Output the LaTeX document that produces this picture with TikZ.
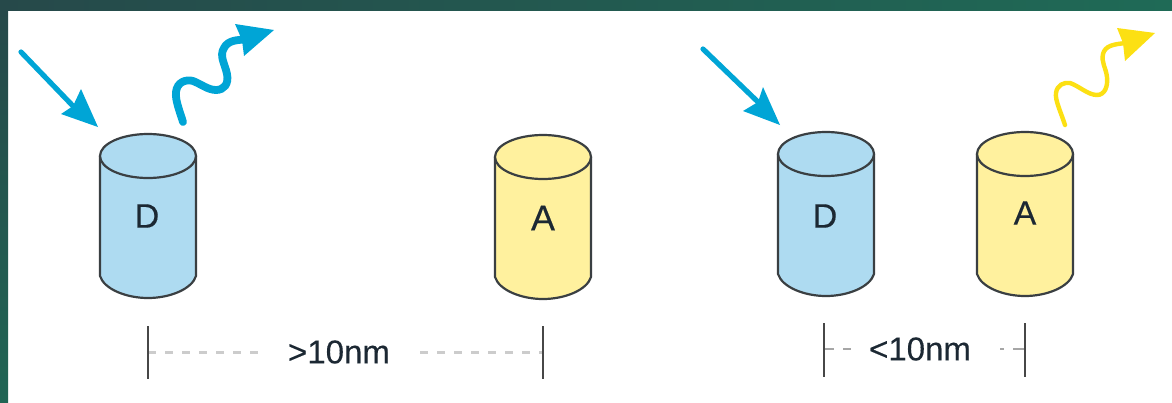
\documentclass[tikz,border=0pt]{standalone}
\usepackage{fontspec}
\setmainfont{Liberation Sans}
\definecolor{donor}{HTML}{AEDBF1}
\definecolor{acceptor}{HTML}{FFF19E}
\definecolor{photonblue}{HTML}{00A5D6}
\definecolor{photonyellow}{HTML}{FCE013}
\definecolor{rim}{HTML}{3A3F42}
\definecolor{inktext}{HTML}{1C2833}
\definecolor{frameleft}{HTML}{26494A}
\definecolor{frameright}{HTML}{1F6A56}
\tikzset{
  x=1pt, y=-1pt,
  cylwall/.style={draw=rim, line width=2.2pt, line join=round},
  cyllabel/.style={inner sep=0pt, text=inktext, font=\fontsize{34}{34}\selectfont\addfontfeature{FakeBold=0.25}},
  dimlabel/.style={inner sep=0pt, text=inktext, font=\fontsize{33}{33}\selectfont\addfontfeature{FakeBold=0.25}},
  dimtick/.style={draw=black!72, line width=2.2pt},
  gapwide/.style={draw=black!20, line width=3pt},
  gapnarrow/.style={draw=black!35, line width=1.8pt},
  straightphoton/.style={draw=photonblue, line width=5.2pt, line cap=round},
  bluephoton/.style={draw=photonblue, line width=7.8pt, line cap=round},
  yellowphoton/.style={draw=photonyellow, line width=4.4pt, line cap=round},
  bluehead/.style={fill=photonblue},
  yellowhead/.style={fill=photonyellow},
}
% Cylinder: name, left edge, centre height of the top ellipse, fill, letter, letter position, extra label options
\newcommand{\tube}[8]{%
  \path[cylwall, fill=#4] (#2,#3) -- (#2,#3+120)
    .. controls (#2+4,#3+133) and (#2+26,#3+142) .. (#2+48,#3+142)
    .. controls (#2+70,#3+142) and (#2+92,#3+133) .. (#2+96,#3+120)
    -- (#2+96,#3) -- cycle;
  \path[cylwall, fill=#4] (#2+48,#3) ellipse[x radius=48pt, y radius=22pt];
  \node[cyllabel, #8] (#1) at (#6,#7) {#5};
}
\begin{document}
\begin{tikzpicture}
  \useasboundingbox (0,0) rectangle (1172,402);
  \fill[white] (0,0) rectangle (1172,402);
  % Dark frame along the top and left edges
  \shade[left color=frameleft, right color=frameright] (0,0) rectangle (1172,10);
  \shade[top color=frameleft, bottom color=frameright!85!frameleft] (0,10) rectangle (8,402);

  % Cylinders
  \tube{donorfar}{100}{156}{donor}{D}{147}{216}{}
  \tube{acceptorfar}{495}{157}{acceptor}{A}{543}{218}{font=\fontsize{36}{36}\selectfont\addfontfeature{FakeBold=0.25}}
  \tube{donornear}{778}{154}{donor}{D}{825}{216}{}
  \tube{acceptornear}{977}{154}{acceptor}{A}{1025}{213}{}

  % Incoming light
  \coordinate (inA) at (21,52);    \coordinate (notchA) at (73,106);
  \coordinate (inB) at (703,49);   \coordinate (notchB) at (758,102);
  \draw[straightphoton] (inA) -- (notchA);
  \fill[bluehead] (98,127) -- (81,89) -- (notchA) -- (61,114) -- cycle;
  \draw[straightphoton] (inB) -- (notchB);
  \fill[bluehead] (780,125) -- (763,87) -- (notchB) -- (743,111) -- cycle;

  % Emitted light
  \coordinate (outA) at (183,122); \coordinate (neckA) at (245,39.5);
  \coordinate (outB) at (1065,125); \coordinate (neckB) at (1127,43);
  \draw[bluephoton] (outA) .. controls (180,112) and (175,100) .. (176,92)
    .. controls (177,82) and (186,79) .. (193,81)
    .. controls (201,84) and (208,90) .. (216,90)
    .. controls (224,90) and (229,84) .. (227,74)
    .. controls (225,64) and (219,56) .. (224,48)
    .. controls (228,40) and (238,40) .. (neckA);
  \fill[bluehead] (274,30) -- (235,24) -- (242,40) -- (244,56) -- cycle;
  \draw[yellowphoton] (outB) .. controls (1060,110) and (1055,100) .. (1056,93)
    .. controls (1057,85) and (1064,82) .. (1070,83)
    .. controls (1079,86) and (1088,95) .. (1097,95)
    .. controls (1105,95) and (1108,86) .. (1107,77)
    .. controls (1106,68) and (1101,62) .. (1103,54)
    .. controls (1105,46) and (1113,44) .. (neckB);
  \fill[yellowhead] (1155,33) -- (1117,28) -- (1123,43) -- (1125,61) -- cycle;

  % Distance markers
  \node[dimlabel] (farlabel) at (339,352) {>10nm};
  \node[dimlabel] (nearlabel) at (920,349) {<10nm};
  \coordinate (farLtop) at (148,326);  \coordinate (farLbot) at (148,379);
  \coordinate (farRtop) at (543,326);  \coordinate (farRbot) at (543,379);
  \coordinate (nearLtop) at (824,323); \coordinate (nearLbot) at (824,377);
  \coordinate (nearRtop) at (1025,323); \coordinate (nearRbot) at (1025,377);
  \coordinate (farL) at (148,352);  \coordinate (farLend) at (258,352);
  \coordinate (farRstart) at (420,352); \coordinate (farR) at (543,352);
  \coordinate (nearL) at (824,349); \coordinate (nearLend) at (851,349);
  \coordinate (nearRstart) at (1000,349); \coordinate (nearR) at (1025,349);
  \draw[gapwide, dash pattern=on 8pt off 9pt] (farL) -- (farLend);
  \draw[gapwide, dash pattern=on 8pt off 9pt] (farRstart) -- (farR);
  \draw[gapnarrow, dash pattern=on 10pt off 9pt] (nearL) -- (nearLend);
  \draw[gapnarrow, dash pattern=on 4pt off 9pt on 12pt off 1pt] (nearRstart) -- (nearR);
  \draw[dimtick] (farLtop) -- (farLbot);
  \draw[dimtick] (farRtop) -- (farRbot);
  \draw[dimtick] (nearLtop) -- (nearLbot);
  \draw[dimtick] (nearRtop) -- (nearRbot);
\end{tikzpicture}
\end{document}
